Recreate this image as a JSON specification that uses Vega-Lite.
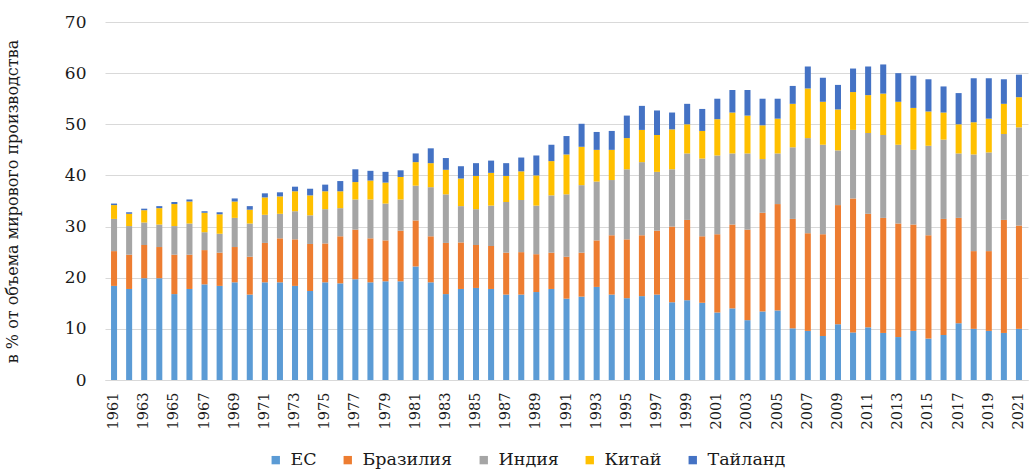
{
  "$schema": "https://vega.github.io/schema/vega-lite/v6.json",
  "autosize": {"type": "none"},
  "width": 923,
  "height": 358,
  "padding": {"left": 105, "top": 22, "right": 2, "bottom": 90},
  "background": "white",
  "datasets": {
    "raw": [
      {"year": 1961, "ЕС": 18.4, "Бразилия": 6.8, "Индия": 6.3, "Китай": 2.7, "Тайланд": 0.3},
      {"year": 1962, "ЕС": 17.8, "Бразилия": 6.7, "Индия": 5.6, "Китай": 2.4, "Тайланд": 0.3},
      {"year": 1963, "ЕС": 19.9, "Бразилия": 6.5, "Индия": 4.4, "Китай": 2.4, "Тайланд": 0.3},
      {"year": 1964, "ЕС": 19.9, "Бразилия": 6.1, "Индия": 4.4, "Китай": 3.2, "Тайланд": 0.4},
      {"year": 1965, "ЕС": 16.8, "Бразилия": 7.7, "Индия": 5.6, "Китай": 4.3, "Тайланд": 0.4},
      {"year": 1966, "ЕС": 17.8, "Бразилия": 6.7, "Индия": 6.1, "Китай": 4.3, "Тайланд": 0.4},
      {"year": 1967, "ЕС": 18.7, "Бразилия": 6.7, "Индия": 3.5, "Китай": 3.8, "Тайланд": 0.3},
      {"year": 1968, "ЕС": 18.4, "Бразилия": 6.5, "Индия": 3.7, "Китай": 3.8, "Тайланд": 0.4},
      {"year": 1969, "ЕС": 19.1, "Бразилия": 6.9, "Индия": 5.7, "Китай": 3.2, "Тайланд": 0.6},
      {"year": 1970, "ЕС": 16.7, "Бразилия": 7.4, "Индия": 6.5, "Китай": 2.7, "Тайланд": 0.7},
      {"year": 1971, "ЕС": 19.1, "Бразилия": 7.7, "Индия": 5.5, "Китай": 3.4, "Тайланд": 0.8},
      {"year": 1972, "ЕС": 19.1, "Бразилия": 8.6, "Индия": 4.8, "Китай": 3.4, "Тайланд": 0.8},
      {"year": 1973, "ЕС": 18.4, "Бразилия": 9.1, "Индия": 5.5, "Китай": 3.9, "Тайланд": 0.9},
      {"year": 1974, "ЕС": 17.4, "Бразилия": 9.2, "Индия": 5.6, "Китай": 3.9, "Тайланд": 1.3},
      {"year": 1975, "ЕС": 19.1, "Бразилия": 7.6, "Индия": 6.7, "Китай": 3.5, "Тайланд": 1.3},
      {"year": 1976, "ЕС": 18.9, "Бразилия": 9.2, "Индия": 5.5, "Китай": 3.3, "Тайланд": 2.0},
      {"year": 1977, "ЕС": 19.7, "Бразилия": 9.7, "Индия": 5.9, "Китай": 3.4, "Тайланд": 2.5},
      {"year": 1978, "ЕС": 19.1, "Бразилия": 8.6, "Индия": 7.6, "Китай": 3.7, "Тайланд": 1.9},
      {"year": 1979, "ЕС": 19.3, "Бразилия": 8.0, "Индия": 7.2, "Китай": 4.1, "Тайланд": 2.1},
      {"year": 1980, "ЕС": 19.3, "Бразилия": 9.9, "Индия": 6.1, "Китай": 4.4, "Тайланд": 1.3},
      {"year": 1981, "ЕС": 22.2, "Бразилия": 9.0, "Индия": 6.8, "Китай": 4.6, "Тайланд": 1.7},
      {"year": 1982, "ЕС": 19.1, "Бразилия": 9.0, "Индия": 9.6, "Китай": 4.7, "Тайланд": 2.9},
      {"year": 1983, "ЕС": 16.8, "Бразилия": 10.0, "Индия": 9.5, "Китай": 4.8, "Тайланд": 2.3},
      {"year": 1984, "ЕС": 17.8, "Бразилия": 9.1, "Индия": 7.1, "Китай": 5.4, "Тайланд": 2.4},
      {"year": 1985, "ЕС": 18.0, "Бразилия": 8.4, "Индия": 7.0, "Китай": 6.5, "Тайланд": 2.5},
      {"year": 1986, "ЕС": 17.8, "Бразилия": 8.4, "Индия": 7.9, "Китай": 6.4, "Тайланд": 2.4},
      {"year": 1987, "ЕС": 16.7, "Бразилия": 8.2, "Индия": 9.9, "Китай": 5.1, "Тайланд": 2.5},
      {"year": 1988, "ЕС": 16.7, "Бразилия": 8.3, "Индия": 10.2, "Китай": 5.6, "Тайланд": 2.7},
      {"year": 1989, "ЕС": 17.2, "Бразилия": 7.4, "Индия": 9.5, "Китай": 5.9, "Тайланд": 3.9},
      {"year": 1990, "ЕС": 17.8, "Бразилия": 7.1, "Индия": 11.2, "Китай": 6.7, "Тайланд": 3.2},
      {"year": 1991, "ЕС": 15.9, "Бразилия": 8.2, "Индия": 12.2, "Китай": 7.8, "Тайланд": 3.6},
      {"year": 1992, "ЕС": 16.3, "Бразилия": 8.6, "Индия": 13.2, "Китай": 7.5, "Тайланд": 4.5},
      {"year": 1993, "ЕС": 18.2, "Бразилия": 9.1, "Индия": 11.5, "Китай": 6.2, "Тайланд": 3.5},
      {"year": 1994, "ЕС": 16.7, "Бразилия": 11.6, "Индия": 10.8, "Китай": 5.9, "Тайланд": 3.7},
      {"year": 1995, "ЕС": 16.0, "Бразилия": 11.5, "Индия": 13.7, "Китай": 6.1, "Тайланд": 4.4},
      {"year": 1996, "ЕС": 16.4, "Бразилия": 11.9, "Индия": 14.3, "Китай": 6.3, "Тайланд": 4.7},
      {"year": 1997, "ЕС": 16.7, "Бразилия": 12.5, "Индия": 11.5, "Китай": 7.2, "Тайланд": 4.8},
      {"year": 1998, "ЕС": 15.2, "Бразилия": 14.8, "Индия": 11.2, "Китай": 7.8, "Тайланд": 3.3},
      {"year": 1999, "ЕС": 15.6, "Бразилия": 15.7, "Индия": 13.0, "Китай": 5.7, "Тайланд": 4.0},
      {"year": 2000, "ЕС": 15.1, "Бразилия": 13.0, "Индия": 15.2, "Китай": 5.4, "Тайланд": 4.3},
      {"year": 2001, "ЕС": 13.2, "Бразилия": 15.3, "Индия": 15.4, "Китай": 7.1, "Тайланд": 4.0},
      {"year": 2002, "ЕС": 14.0, "Бразилия": 16.4, "Индия": 13.9, "Китай": 8.0, "Тайланд": 4.4},
      {"year": 2003, "ЕС": 11.7, "Бразилия": 17.7, "Индия": 14.9, "Китай": 7.4, "Тайланд": 5.0},
      {"year": 2004, "ЕС": 13.4, "Бразилия": 19.3, "Индия": 10.5, "Китай": 6.6, "Тайланд": 5.2},
      {"year": 2005, "ЕС": 13.6, "Бразилия": 20.8, "Индия": 9.9, "Китай": 6.8, "Тайланд": 3.9},
      {"year": 2006, "ЕС": 10.1, "Бразилия": 21.4, "Индия": 14.0, "Китай": 8.5, "Тайланд": 3.5},
      {"year": 2007, "ЕС": 9.6, "Бразилия": 19.1, "Индия": 18.6, "Китай": 9.7, "Тайланд": 4.3},
      {"year": 2008, "ЕС": 8.6, "Бразилия": 19.9, "Индия": 17.5, "Китай": 8.4, "Тайланд": 4.7},
      {"year": 2009, "ЕС": 10.9, "Бразилия": 23.3, "Индия": 10.7, "Китай": 8.0, "Тайланд": 4.8},
      {"year": 2010, "ЕС": 9.3, "Бразилия": 26.2, "Индия": 13.4, "Китай": 7.4, "Тайланд": 4.6},
      {"year": 2011, "ЕС": 10.3, "Бразилия": 22.2, "Индия": 15.8, "Китай": 7.4, "Тайланд": 5.6},
      {"year": 2012, "ЕС": 9.2, "Бразилия": 22.5, "Индия": 16.2, "Китай": 8.1, "Тайланд": 5.7},
      {"year": 2013, "ЕС": 8.4, "Бразилия": 22.2, "Индия": 15.4, "Китай": 8.4, "Тайланд": 5.6},
      {"year": 2014, "ЕС": 9.6, "Бразилия": 20.8, "Индия": 14.6, "Китай": 8.2, "Тайланд": 6.3},
      {"year": 2015, "ЕС": 8.1, "Бразилия": 20.2, "Индия": 17.5, "Китай": 6.7, "Тайланд": 6.3},
      {"year": 2016, "ЕС": 8.8, "Бразилия": 22.7, "Индия": 15.5, "Китай": 5.3, "Тайланд": 5.1},
      {"year": 2017, "ЕС": 11.1, "Бразилия": 20.6, "Индия": 12.6, "Китай": 5.7, "Тайланд": 6.1},
      {"year": 2018, "ЕС": 10.0, "Бразилия": 15.2, "Индия": 18.9, "Китай": 6.3, "Тайланд": 8.6},
      {"year": 2019, "ЕС": 9.6, "Бразилия": 15.6, "Индия": 19.3, "Китай": 6.6, "Тайланд": 7.9},
      {"year": 2020, "ЕС": 9.2, "Бразилия": 22.1, "Индия": 16.8, "Китай": 5.9, "Тайланд": 4.8},
      {"year": 2021, "ЕС": 10.0, "Бразилия": 20.2, "Индия": 19.2, "Китай": 5.9, "Тайланд": 4.4}
    ],
    "ord": [
      {"k": "ЕС", "i": 1},
      {"k": "Бразилия", "i": 2},
      {"k": "Индия", "i": 3},
      {"k": "Китай", "i": 4},
      {"k": "Тайланд", "i": 5}
    ]
  },
  "data": {"name": "raw"},
  "transform": [
    {"fold": ["ЕС", "Бразилия", "Индия", "Китай", "Тайланд"], "as": ["series", "value"]},
    {"lookup": "series", "from": {"data": {"name": "ord"}, "key": "k", "fields": ["i"]}}
  ],
  "mark": {"type": "bar"},
  "encoding": {
    "x": {
      "field": "year",
      "type": "ordinal",
      "scale": {"paddingInner": 0.6, "paddingOuter": 0.4},
      "axis": {
        "title": null,
        "values": [1961,1963,1965,1967,1969,1971,1973,1975,1977,1979,1981,1983,1985,1987,1989,1991,1993,1995,1997,1999,2001,2003,2005,2007,2009,2011,2013,2015,2017,2019,2021],
        "labelAngle": -90,
        "labelAlign": "right",
        "labelBaseline": "middle",
        "labelFont": "DejaVu Serif",
        "labelFontSize": 14.5,
        "labelColor": "#1a1a1a",
        "labelPadding": 12,
        "ticks": false,
        "domain": true,
        "domainColor": "#D9D9D9",
        "domainWidth": 1
      }
    },
    "y": {
      "field": "value",
      "type": "quantitative",
      "stack": "zero",
      "scale": {"domain": [0, 70], "nice": false},
      "axis": {
        "title": "в % от объема мирового производства",
        "titleFont": "DejaVu Serif",
        "titleFontSize": 16,
        "titleFontWeight": "normal",
        "titleColor": "#1a1a1a",
        "titlePadding": 44,
        "values": [0, 10, 20, 30, 40, 50, 60, 70],
        "labelFont": "DejaVu Serif",
        "labelFontSize": 17,
        "labelColor": "#1a1a1a",
        "labelPadding": 19,
        "ticks": false,
        "domain": false,
        "grid": true,
        "gridColor": "#D9D9D9",
        "gridWidth": 1
      }
    },
    "color": {
      "field": "series",
      "type": "nominal",
      "scale": {
        "domain": ["ЕС", "Бразилия", "Индия", "Китай", "Тайланд"],
        "range": ["#5B9BD5", "#ED7D31", "#A5A5A5", "#FFC000", "#4472C4"]
      },
      "legend": {
        "title": null,
        "orient": "none",
        "direction": "horizontal",
        "legendX": 162,
        "legendY": 429,
        "symbolType": "square",
        "symbolSize": 70,
        "symbolStrokeWidth": 0,
        "labelFont": "DejaVu Serif",
        "labelFontSize": 17.5,
        "labelColor": "#1a1a1a",
        "labelOffset": 6,
        "columnPadding": 22,
        "padding": 0
      }
    },
    "order": {"field": "i", "type": "quantitative"}
  },
  "config": {
    "view": {"stroke": null}
  }
}
